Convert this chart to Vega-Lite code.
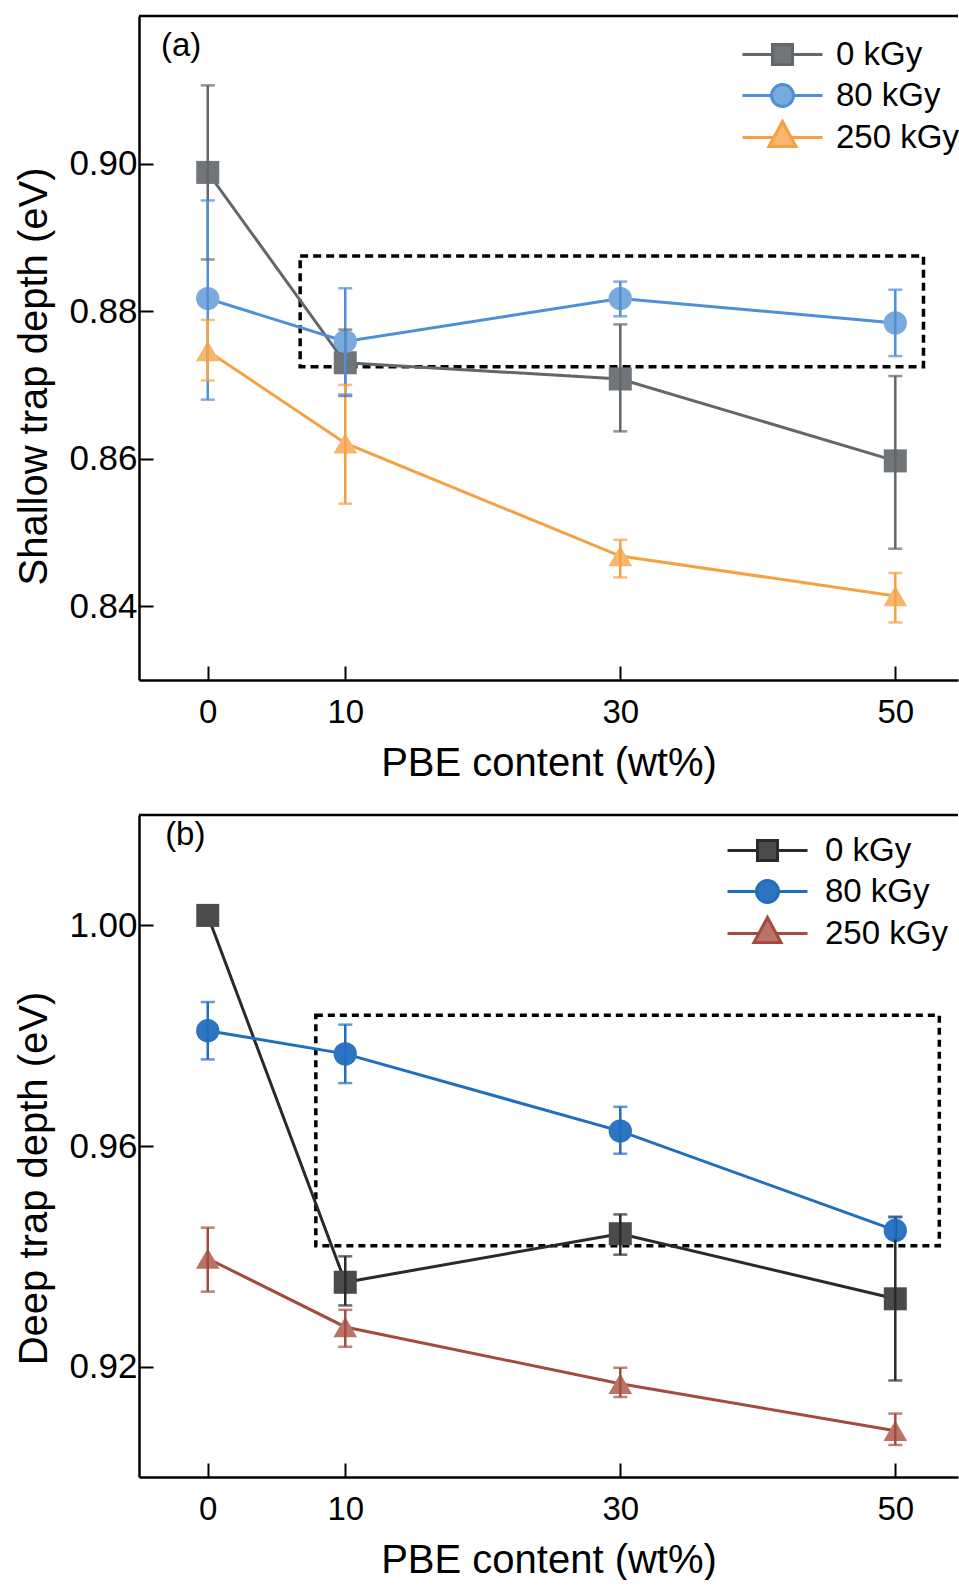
{
  "$schema": "https://vega.github.io/schema/vega-lite/v6.json",
  "padding": {"left": 14, "top": 14, "right": 0, "bottom": 0},
  "autosize": {"type": "pad"},
  "spacing": 30,
  "resolve": {"scale": {"color": "independent", "size": "independent"}},
  "config": {
    "font": "Liberation Sans",
    "view": {"stroke": null},
    "axis": {
      "grid": false,
      "domainColor": "black",
      "domainWidth": 2.5,
      "tickColor": "black",
      "tickWidth": 2,
      "tickSize": -14,
      "labelFont": "Liberation Sans",
      "labelColor": "black",
      "titleFont": "Liberation Sans",
      "titleFontSize": 40,
      "titleFontWeight": "normal",
      "titleColor": "black"
    },
    "axisX": {"labelPadding": 30, "titlePadding": 14, "labelFontSize": 33},
    "axisY": {"labelPadding": 16, "titlePadding": 14, "labelFontSize": 35},
    "legend": {
      "orient": "none",
      "labelFont": "Liberation Sans",
      "labelFontSize": 33,
      "labelColor": "black",
      "symbolSize": 1600,
      "symbolStrokeWidth": 3,
      "symbolOpacity": 1,
      "rowPadding": 2,
      "labelOffset": 32,
      "padding": 0
    }
  },
  "datasets": {
    "a": [
      {"series": "0 kGy", "x": 0, "y": 0.8988, "lo": 0.8870, "hi": 0.9106},
      {"series": "0 kGy", "x": 10, "y": 0.8730, "lo": 0.8685, "hi": 0.8775},
      {"series": "0 kGy", "x": 30, "y": 0.8708, "lo": 0.8637, "hi": 0.8782},
      {"series": "0 kGy", "x": 50, "y": 0.8597, "lo": 0.8478, "hi": 0.8712},
      {"series": "80 kGy", "x": 0, "y": 0.8817, "lo": 0.8680, "hi": 0.8950},
      {"series": "80 kGy", "x": 10, "y": 0.8759, "lo": 0.8687, "hi": 0.8831},
      {"series": "80 kGy", "x": 30, "y": 0.8817, "lo": 0.8793, "hi": 0.8840},
      {"series": "80 kGy", "x": 50, "y": 0.8784, "lo": 0.8739, "hi": 0.8829},
      {"series": "250 kGy", "x": 0, "y": 0.8746, "lo": 0.8706, "hi": 0.8788},
      {"series": "250 kGy", "x": 10, "y": 0.8621, "lo": 0.8539, "hi": 0.8700},
      {"series": "250 kGy", "x": 30, "y": 0.8468, "lo": 0.8439, "hi": 0.8490},
      {"series": "250 kGy", "x": 50, "y": 0.8414, "lo": 0.8378, "hi": 0.8445}
    ],
    "b": [
      {"series": "0 kGy", "x": 0, "y": 1.0018, "lo": null, "hi": null},
      {"series": "0 kGy", "x": 10, "y": 0.9353, "lo": 0.9311, "hi": 0.9400},
      {"series": "0 kGy", "x": 30, "y": 0.9441, "lo": 0.9403, "hi": 0.9476},
      {"series": "0 kGy", "x": 50, "y": 0.9323, "lo": 0.9175, "hi": 0.9471},
      {"series": "80 kGy", "x": 0, "y": 0.9809, "lo": 0.9757, "hi": 0.9861},
      {"series": "80 kGy", "x": 10, "y": 0.9767, "lo": 0.9714, "hi": 0.9820},
      {"series": "80 kGy", "x": 30, "y": 0.9627, "lo": 0.9586, "hi": 0.9671},
      {"series": "80 kGy", "x": 50, "y": 0.9447, "lo": 0.9432, "hi": 0.9472},
      {"series": "250 kGy", "x": 0, "y": 0.9396, "lo": 0.9336, "hi": 0.9452},
      {"series": "250 kGy", "x": 10, "y": 0.9272, "lo": 0.9236, "hi": 0.9303},
      {"series": "250 kGy", "x": 30, "y": 0.9169, "lo": 0.9145, "hi": 0.9198},
      {"series": "250 kGy", "x": 50, "y": 0.9084, "lo": 0.9058, "hi": 0.9115}
    ],
    "boxa": [{"x1": 6.72, "x2": 52.05, "y1": 0.87245, "y2": 0.88746}],
    "boxb": [{"x1": 7.86, "x2": 53.2, "y1": 0.9419, "y2": 0.9837}],
    "one": [{"k": 1}]
  },
  "vconcat": [
    {
      "width": 819,
      "height": 664,
      "data": {"name": "a"},
      "layer": [
        {
          "data": {"name": "boxa"},
          "mark": {"type": "rect", "fillOpacity": 0, "stroke": "black", "strokeWidth": 3.5, "strokeDash": [8, 5]},
          "encoding": {
            "x": {"field": "x1", "type": "quantitative", "scale": {"domain": [-5, 54.56], "nice": false, "zero": false}},
            "x2": {"field": "x2"},
            "y": {"field": "y1", "type": "quantitative", "scale": {"domain": [0.83, 0.92], "nice": false, "zero": false}},
            "y2": {"field": "y2"}
          }
        },
        {
          "data": {"name": "one"},
          "mark": {"type": "rule", "color": "black", "strokeWidth": 2.5},
          "encoding": {"y": {"datum": 0.92, "type": "quantitative"}}
        },
        {
          "mark": {"type": "line", "strokeWidth": 3},
          "encoding": {
            "x": {"field": "x", "type": "quantitative", "scale": {"domain": [-5, 54.56], "nice": false, "zero": false},
                  "axis": {"values": [0, 10, 30, 50], "title": "PBE content (wt%)"}},
            "y": {"field": "y", "type": "quantitative", "scale": {"domain": [0.83, 0.92], "nice": false, "zero": false},
                  "axis": {"values": [0.84, 0.86, 0.88, 0.90], "format": ".2f", "title": "Shallow trap depth (eV)", "titleY": 360}},
            "color": {"field": "series", "type": "nominal", "scale": {"domain": ["0 kGy", "80 kGy", "250 kGy"], "range": ["#61676a", "#4f8fd6", "#f5a142"]}, "legend": null}
          }
        },
        {
          "mark": {"type": "point", "filled": true, "opacity": 1},
          "encoding": {
            "x": {"field": "x", "type": "quantitative"},
            "y": {"field": "y", "type": "quantitative"},
            "fill": {"field": "series", "type": "nominal", "scale": {"domain": ["0 kGy", "80 kGy", "250 kGy"], "range": ["#717579", "#7aa9dd", "#f7b56d"]}, "legend": null},
            "shape": {"field": "series", "type": "nominal", "scale": {"domain": ["0 kGy", "80 kGy", "250 kGy"], "range": ["square", "circle", "triangle-up"]}, "legend": null},
            "size": {"field": "series", "type": "nominal", "scale": {"domain": ["0 kGy", "80 kGy", "250 kGy"], "range": [530, 560, 720]}, "legend": null}
          }
        },
        {
          "mark": {"type": "rule", "strokeWidth": 2.5},
          "encoding": {
            "x": {"field": "x", "type": "quantitative"},
            "y": {"field": "lo", "type": "quantitative"},
            "y2": {"field": "hi"},
            "color": {"field": "series", "type": "nominal", "legend": null}
          }
        },
        {
          "mark": {"type": "tick", "orient": "horizontal", "size": 14, "thickness": 2.5},
          "encoding": {
            "x": {"field": "x", "type": "quantitative"},
            "y": {"field": "lo", "type": "quantitative"},
            "color": {"field": "series", "type": "nominal", "legend": null}
          }
        },
        {
          "mark": {"type": "tick", "orient": "horizontal", "size": 14, "thickness": 2.5},
          "encoding": {
            "x": {"field": "x", "type": "quantitative"},
            "y": {"field": "hi", "type": "quantitative"},
            "color": {"field": "series", "type": "nominal", "legend": null}
          }
        },
        {
          "data": {"values": []},
          "mark": {"type": "point", "filled": true, "opacity": 1},
          "encoding": {
            "x": {"field": "x", "type": "quantitative"},
            "y": {"field": "y", "type": "quantitative"},
            "fill": {"field": "series", "type": "nominal", "scale": {"domain": ["0 kGy", "80 kGy", "250 kGy"], "range": ["#717579", "#7aa9dd", "#f7b56d"]},
                     "legend": {"title": null, "legendX": 622, "legendY": 17}},
            "stroke": {"field": "series", "type": "nominal", "scale": {"domain": ["0 kGy", "80 kGy", "250 kGy"], "range": ["#61676a", "#4f8fd6", "#f5a142"]},
                       "legend": {"title": null, "legendX": 622, "legendY": 17}},
            "shape": {"field": "series", "type": "nominal", "scale": {"domain": ["0 kGy", "80 kGy", "250 kGy"], "range": [
              "M-2,0H-0.5M0.5,0H2M-0.5,-0.5H0.5V0.5H-0.5Z",
              "M-2,0H-0.55M0.55,0H2M-0.55,0A0.55,0.55,0,1,0,0.55,0A0.55,0.55,0,1,0,-0.55,0Z",
              "M-2,0H-0.435M0.435,0H2M0,-0.8L0.68,0.45L-0.68,0.45Z"]},
                      "legend": {"title": null, "legendX": 622, "legendY": 17}}
          }
        },
        {
          "data": {"name": "one"},
          "mark": {"type": "text", "text": "(a)", "fontSize": 33, "fontWeight": "normal", "align": "left", "baseline": "middle", "color": "black"},
          "encoding": {"x": {"datum": -3.4, "type": "quantitative"}, "y": {"datum": 0.9159, "type": "quantitative"}}
        }
      ],
      "resolve": {"scale": {"fill": "independent", "stroke": "independent", "shape": "independent"}}
    },
    {
      "width": 819,
      "height": 662,
      "data": {"name": "b"},
      "layer": [
        {
          "data": {"name": "boxb"},
          "mark": {"type": "rect", "fillOpacity": 0, "stroke": "black", "strokeWidth": 3.5, "strokeDash": [7, 5]},
          "encoding": {
            "x": {"field": "x1", "type": "quantitative", "scale": {"domain": [-5, 54.56], "nice": false, "zero": false}},
            "x2": {"field": "x2"},
            "y": {"field": "y1", "type": "quantitative", "scale": {"domain": [0.90, 1.02], "nice": false, "zero": false}},
            "y2": {"field": "y2"}
          }
        },
        {
          "data": {"name": "one"},
          "mark": {"type": "rule", "color": "black", "strokeWidth": 2.5},
          "encoding": {"y": {"datum": 1.02, "type": "quantitative"}}
        },
        {
          "mark": {"type": "line", "strokeWidth": 3},
          "encoding": {
            "x": {"field": "x", "type": "quantitative", "scale": {"domain": [-5, 54.56], "nice": false, "zero": false},
                  "axis": {"values": [0, 10, 30, 50], "title": "PBE content (wt%)"}},
            "y": {"field": "y", "type": "quantitative", "scale": {"domain": [0.90, 1.02], "nice": false, "zero": false},
                  "axis": {"values": [0.92, 0.96, 1.00], "format": ".2f", "title": "Deep trap depth (eV)", "titleY": 363}},
            "color": {"field": "series", "type": "nominal", "scale": {"domain": ["0 kGy", "80 kGy", "250 kGy"], "range": ["#2a2a2a", "#1f6ebf", "#a44b3f"]}, "legend": null}
          }
        },
        {
          "mark": {"type": "point", "filled": true, "opacity": 1},
          "encoding": {
            "x": {"field": "x", "type": "quantitative"},
            "y": {"field": "y", "type": "quantitative"},
            "fill": {"field": "series", "type": "nominal", "scale": {"domain": ["0 kGy", "80 kGy", "250 kGy"], "range": ["#4b4b4b", "#2d74c2", "#b97467"]}, "legend": null},
            "shape": {"field": "series", "type": "nominal", "scale": {"domain": ["0 kGy", "80 kGy", "250 kGy"], "range": ["square", "circle", "triangle-up"]}, "legend": null},
            "size": {"field": "series", "type": "nominal", "scale": {"domain": ["0 kGy", "80 kGy", "250 kGy"], "range": [530, 560, 720]}, "legend": null}
          }
        },
        {
          "mark": {"type": "rule", "strokeWidth": 2.5},
          "encoding": {
            "x": {"field": "x", "type": "quantitative"},
            "y": {"field": "lo", "type": "quantitative"},
            "y2": {"field": "hi"},
            "color": {"field": "series", "type": "nominal", "legend": null}
          }
        },
        {
          "mark": {"type": "tick", "orient": "horizontal", "size": 14, "thickness": 2.5},
          "encoding": {
            "x": {"field": "x", "type": "quantitative"},
            "y": {"field": "lo", "type": "quantitative"},
            "color": {"field": "series", "type": "nominal", "legend": null}
          }
        },
        {
          "mark": {"type": "tick", "orient": "horizontal", "size": 14, "thickness": 2.5},
          "encoding": {
            "x": {"field": "x", "type": "quantitative"},
            "y": {"field": "hi", "type": "quantitative"},
            "color": {"field": "series", "type": "nominal", "legend": null}
          }
        },
        {
          "data": {"values": []},
          "mark": {"type": "point", "filled": true, "opacity": 1},
          "encoding": {
            "x": {"field": "x", "type": "quantitative"},
            "y": {"field": "y", "type": "quantitative"},
            "fill": {"field": "series", "type": "nominal", "scale": {"domain": ["0 kGy", "80 kGy", "250 kGy"], "range": ["#4b4b4b", "#2d74c2", "#b97467"]},
                     "legend": {"title": null, "legendX": 607, "legendY": 14, "labelOffset": 36}},
            "stroke": {"field": "series", "type": "nominal", "scale": {"domain": ["0 kGy", "80 kGy", "250 kGy"], "range": ["#2a2a2a", "#1f6ebf", "#a44b3f"]},
                       "legend": {"title": null, "legendX": 607, "legendY": 14, "labelOffset": 36}},
            "shape": {"field": "series", "type": "nominal", "scale": {"domain": ["0 kGy", "80 kGy", "250 kGy"], "range": [
              "M-2,0H-0.5M0.5,0H2M-0.5,-0.5H0.5V0.5H-0.5Z",
              "M-2,0H-0.55M0.55,0H2M-0.55,0A0.55,0.55,0,1,0,0.55,0A0.55,0.55,0,1,0,-0.55,0Z",
              "M-2,0H-0.435M0.435,0H2M0,-0.8L0.68,0.45L-0.68,0.45Z"]},
                      "legend": {"title": null, "legendX": 607, "legendY": 14, "labelOffset": 36}}
          }
        },
        {
          "data": {"name": "one"},
          "mark": {"type": "text", "text": "(b)", "fontSize": 33, "fontWeight": "normal", "align": "left", "baseline": "middle", "color": "black"},
          "encoding": {"x": {"datum": -3.1, "type": "quantitative"}, "y": {"datum": 1.0164, "type": "quantitative"}}
        }
      ],
      "resolve": {"scale": {"fill": "independent", "stroke": "independent", "shape": "independent"}}
    }
  ]
}
